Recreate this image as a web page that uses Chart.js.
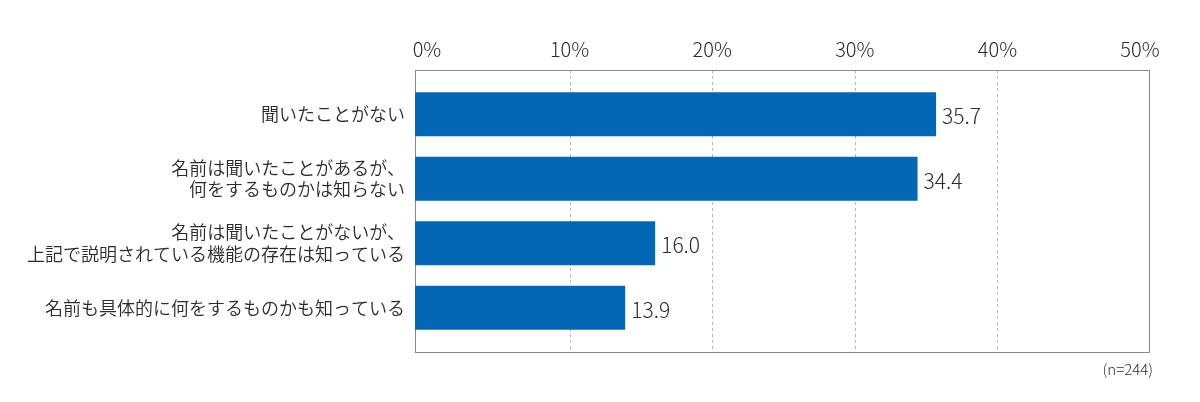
<!DOCTYPE html>
<html lang="ja">
<head>
<meta charset="utf-8">
<script src="https://cdn.jsdelivr.net/npm/chart.js@4"></script>
<style>
  html, body { margin: 0; padding: 0; background: #fff; }
  #wrap { width: 1200px; height: 402px; position: relative; }
</style>
</head>
<body>
<div id="wrap"><canvas id="grafico"></canvas></div>
<script>
// datos
const categorias = [
  ['聞いたことがない'],
  ['名前は聞いたことがあるが、', '何をするものかは知らない'],
  ['名前は聞いたことがないが、', '上記で説明されている機能の存在は知っている'],
  ['名前も具体的に何をするものかも知っている']
];
const valores = [35.7, 34.4, 16.0, 13.9];
const ticksX = [0, 10, 20, 30, 40, 50];
const notaN = '(n=244)';

const fuente = '"Noto Sans CJK JP", "Noto Sans", sans-serif';
const colorBarra = '#0467b5';
const colorTexto = '#2b2b2b';
const minX = -0.84, maxX = 50.63;

// marco, líneas de guía, etiquetas de valor y nota (n=)
const marcoPlugin = {
  id: 'marco',
  beforeDatasetsDraw(chart) {
    const { ctx, chartArea, scales } = chart;
    const top = chartArea.top - 12, bottom = chartArea.bottom + 12;
    ctx.save();
    ctx.strokeStyle = '#b5b5b5';
    ctx.lineWidth = 1;
    ctx.setLineDash([3, 3]);
    ticksX.slice(1, -1).forEach(v => {
      const x = Math.round(scales.x.getPixelForValue(v)) + 0.5;
      ctx.beginPath();
      ctx.moveTo(x, top);
      ctx.lineTo(x, bottom);
      ctx.stroke();
    });
    ctx.setLineDash([]);
    ctx.strokeStyle = '#8a8a8a';
    ctx.strokeRect(Math.round(chartArea.left) + 0.5, top + 0.5,
      Math.round(chartArea.right - chartArea.left), bottom - top);
    ctx.restore();
  },
  afterDatasetsDraw(chart) {
    const { ctx, chartArea } = chart;
    const meta = chart.getDatasetMeta(0);
    ctx.save();
    ctx.fillStyle = colorTexto;
    ctx.font = '300 21px ' + fuente;
    ctx.textBaseline = 'middle';
    ctx.textAlign = 'left';
    meta.data.forEach((bar, i) => {
      ctx.fillText(valores[i].toFixed(1), bar.x + 6, bar.y + 2);
    });
    ctx.font = '300 15px ' + fuente;
    ctx.textAlign = 'right';
    ctx.fillText(notaN, chartArea.right + 4, chartArea.bottom + 29);
    ctx.restore();
  }
};

new Chart(document.getElementById('grafico'), {
  type: 'bar',
  data: {
    labels: categorias,
    datasets: [{
      data: valores,
      base: minX,
      backgroundColor: colorBarra,
      borderWidth: 0,
      barPercentage: 0.68,
      categoryPercentage: 1
    }]
  },
  options: {
    indexAxis: 'y',
    responsive: true,
    maintainAspectRatio: false,
    animation: false,
    layout: { padding: { left: 0, right: 51, top: 0, bottom: 62 } },
    plugins: {
      legend: { display: false },
      tooltip: { enabled: false }
    },
    scales: {
      x: {
        position: 'top',
        min: minX,
        max: maxX,
        afterBuildTicks: scale => { scale.ticks = ticksX.map(v => ({ value: v })); },
        afterFit: scale => { scale.height = 82; },
        grid: { display: false, drawTicks: false },
        border: { display: false },
        ticks: {
          padding: 21,
          color: colorTexto,
          font: { family: fuente, size: 20, weight: 300 },
          callback: v => v + '%'
        }
      },
      y: {
        afterFit: scale => { scale.width = 415; },
        grid: { display: false, drawTicks: false },
        border: { display: false },
        ticks: {
          padding: 10,
          color: colorTexto,
          font: { family: fuente, size: 18, weight: 350, lineHeight: 1.2 }
        }
      }
    }
  },
  plugins: [marcoPlugin]
});
</script>
</body>
</html>
